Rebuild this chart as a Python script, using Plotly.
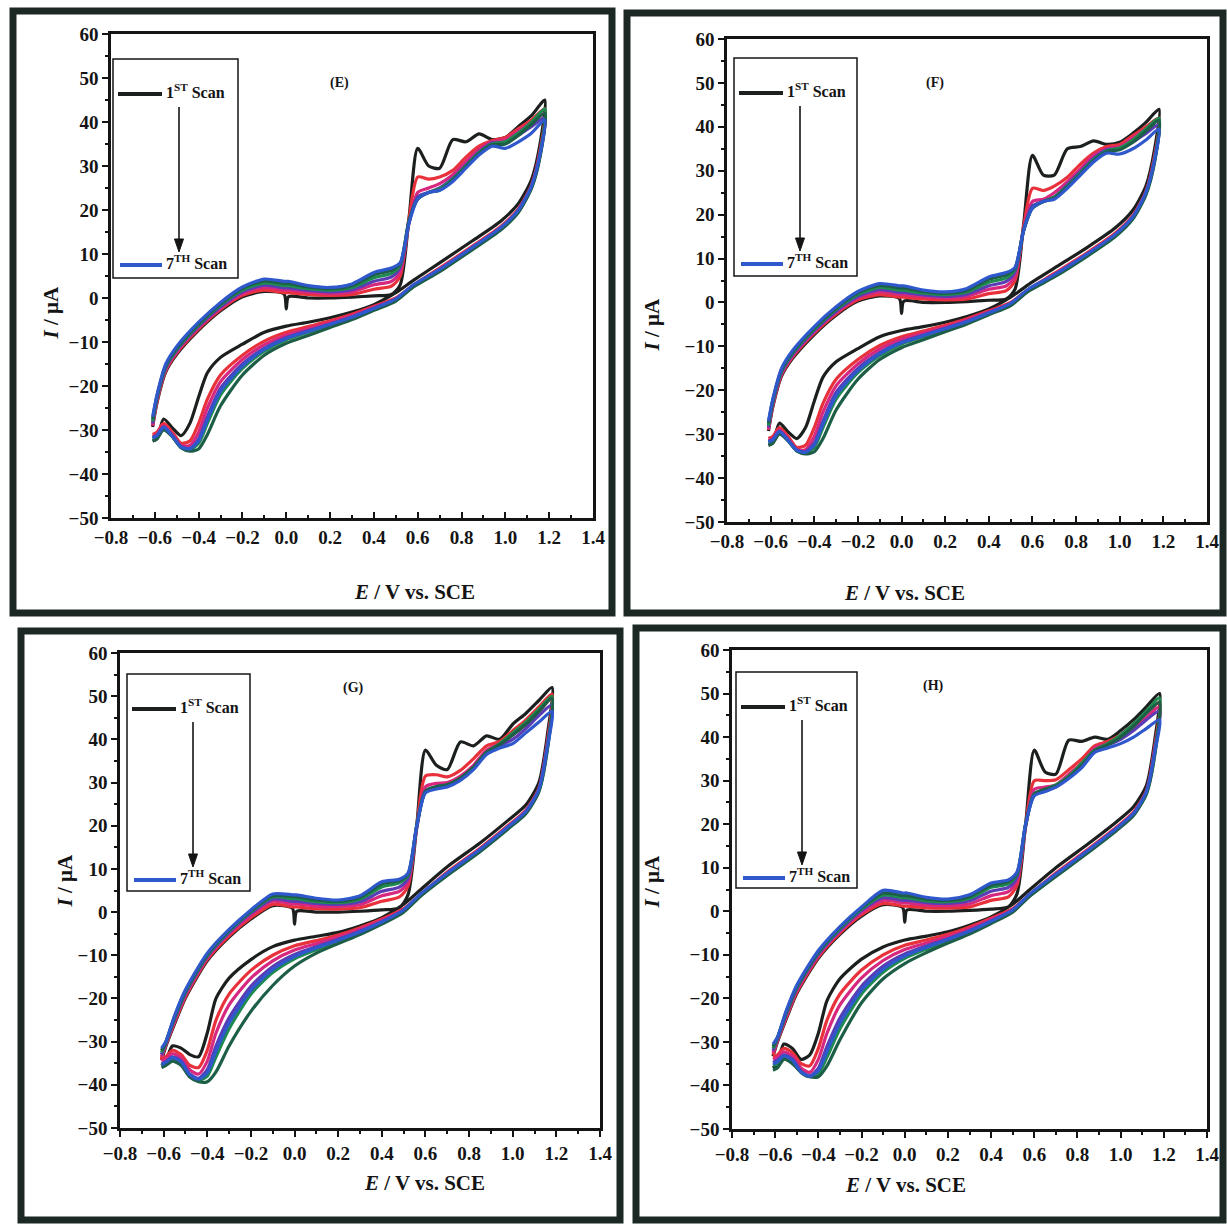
import plotly.graph_objects as go

FIG_W, FIG_H = 1227, 1224

# ---------------- data ----------------
POTENTIAL = [-0.61, -0.59, -0.55, -0.50, -0.40, -0.30, -0.20, -0.10, -0.01, 0.00, 0.01, 0.10, 0.20, 0.30,
             0.40, 0.48, 0.52, 0.56, 0.60, 0.65, 0.70, 0.76, 0.82, 0.88, 0.94, 1.00, 1.06, 1.12, 1.18,
             1.16, 1.12, 1.06, 0.98, 0.85, 0.70, 0.58, 0.50, 0.40, 0.30, 0.20, 0.10, 0.00, -0.10, -0.20,
             -0.30, -0.36, -0.40, -0.44, -0.48, -0.52, -0.56, -0.59, -0.61]

SCAN_NAMES = ["1st Scan", "2nd Scan", "3rd Scan", "4th Scan", "5th Scan", "6th Scan", "7th Scan"]
SCAN_COLORS = ["#1b1f1d", "#e8313a", "#d6287e", "#5a3cb4", "#1f8a4f", "#1d5e46", "#2f58cc"]

# Panel E
E_S1 = [-29.3, -23.8, -16.8, -12.8, -7.3, -2.9, 0.3, 1.5, 0.9, -2.5, 0.3, 0, 0, 0.2, 0.5, 0.8, 3, 18, 34, 30, 29.5, 36, 35.5, 37.3, 36, 36.5, 39, 41.5, 45,
        35.5, 27, 21.5, 17.5, 13, 8, 4, 1.2, -1.5, -3.2, -4.5, -5.5, -6.4, -7.8, -10.5, -13.5, -17, -22.5, -28.5, -31.3, -29.5, -27.5, -32, -32.5]
E_S2 = [-29, -23.5, -16.5, -12.5, -7, -2.6, 0.6, 1.8, 1.2, 1.2, 1.2, 0.8, 0.6, 0.8, 2, 2.7, 5, 18, 27.5, 27, 27.5, 29, 32, 34.5, 35.8, 36.5, 38.5, 40.5, 43,
        34, 25.8, 20.3, 16.3, 11.8, 6.8, 2.9, 0, -1.9, -3.7, -5.2, -6.5, -7.8, -9.8, -13, -17.5, -23, -28.5, -32.5, -33, -30.5, -28.5, -30.5, -31]
E_S3 = [-29, -23, -16.2, -12.2, -6.7, -2.3, 1, 2.4, 1.8, 1.8, 1.8, 1.3, 1, 1.4, 3, 3.8, 6, 17, 24, 25, 26, 28, 31, 33.8, 35.5, 36, 38, 40, 42,
        33.5, 25.6, 20.1, 16.1, 11.6, 6.6, 2.8, -0.2, -2.1, -4, -5.6, -7, -8.4, -10.6, -14, -19, -25, -30.5, -33.5, -33.5, -31, -29, -31, -31.5]
E_S4 = [-28.5, -22.8, -15.9, -11.9, -6.4, -2, 1.4, 2.9, 2.3, 2.3, 2.3, 1.7, 1.4, 1.9, 3.8, 4.8, 7, 17, 23, 24, 25, 27.2, 30.2, 33.2, 35.2, 35.3, 37, 39, 41,
        33, 25.4, 19.9, 15.9, 11.4, 6.4, 2.7, -0.3, -2.3, -4.3, -5.9, -7.4, -9, -11.4, -15, -20.5, -27, -32, -34.2, -33.8, -31.3, -29.3, -31.2, -31.7]
E_S5 = [-28, -22.5, -15.6, -11.6, -6.1, -1.6, 1.8, 3.4, 2.8, 2.8, 2.8, 2.1, 1.8, 2.4, 4.6, 5.6, 7.5, 17.5, 22.5, 24, 24.8, 27, 30, 33, 35, 35.5, 37.5, 40, 43,
        33, 25.2, 19.7, 15.7, 11.2, 6.2, 2.6, -0.5, -2.5, -4.5, -6.2, -7.8, -9.5, -12.1, -16, -22, -28.5, -33, -34.5, -34, -31.5, -29.5, -31.5, -32]
E_S6 = [-27.5, -22.2, -15.3, -11.3, -5.8, -1.3, 2.2, 3.9, 3.3, 3.3, 3.3, 2.5, 2.1, 2.8, 5.3, 6.3, 7.8, 17.5, 22.5, 24, 24.5, 26.8, 29.8, 32.8, 34.8, 35, 37, 39.5, 42,
        32.5, 25, 19.5, 15.5, 11, 6, 2.5, -0.7, -2.8, -4.9, -6.7, -8.5, -10.3, -13, -17.5, -24.5, -31, -34.3, -34.8, -34, -31.5, -30, -32, -32.5]
E_S7 = [-27, -22, -15, -11, -5.5, -1, 2.5, 4.3, 3.8, 3.8, 3.8, 2.8, 2.4, 3.2, 5.8, 6.8, 8, 17, 22.5, 24, 24.5, 26.5, 29.5, 32.5, 34.5, 34, 35.5, 37.5, 40.5,
        33, 25.5, 20, 16, 11.5, 6.5, 3, -0.2, -2.4, -4.4, -6, -7.6, -9.2, -11.7, -15.5, -21.2, -27.7, -32.5, -34.3, -33.9, -31.4, -29.4, -31.3, -31.8]

# Panel F
F_S1 = [-29.3, -23.8, -16.8, -12.8, -7.3, -2.9, 0.3, 1.5, 0.9, -2.5, 0.3, 0, 0, 0.2, 0.5, 0.8, 3, 18, 33.5, 29, 29, 35, 35.5, 36.8, 36, 36.5, 38.5, 41, 44,
        35, 26.5, 21, 17, 12.5, 7.8, 4, 1.2, -1.5, -3.2, -4.5, -5.5, -6.4, -7.8, -10.5, -13.5, -17, -22.5, -28.5, -31, -29.5, -27.5, -32, -32.5]
F_S2 = [-29, -23.5, -16.5, -12.5, -7, -2.6, 0.6, 1.8, 1.2, 1.2, 1.2, 0.8, 0.6, 0.8, 2, 2.7, 5, 17.5, 26, 25.5, 26.5, 28.5, 31.5, 34, 35.5, 36, 38, 40, 42,
        33.5, 25.3, 19.8, 15.8, 11.3, 6.6, 2.9, 0, -1.9, -3.7, -5.2, -6.5, -7.8, -9.8, -13, -17.5, -23, -28.5, -32.5, -33, -30.5, -28.5, -30.5, -31]
F_S3 = [-29, -23, -16.2, -12.2, -6.7, -2.3, 1, 2.4, 1.8, 1.8, 1.8, 1.3, 1, 1.4, 3, 3.8, 6, 17, 23, 23.5, 25, 27.5, 30.5, 33.5, 35, 35.5, 37.5, 39.5, 41.5,
        33, 25.1, 19.6, 15.6, 11.1, 6.4, 2.8, -0.2, -2.1, -4, -5.6, -7, -8.4, -10.6, -14, -19, -25, -30.5, -33.5, -33.5, -31, -29, -31, -31.5]
F_S4 = [-28.5, -22.8, -15.9, -11.9, -6.4, -2, 1.4, 2.9, 2.3, 2.3, 2.3, 1.7, 1.4, 1.9, 3.8, 4.8, 7, 16.5, 22, 23, 24, 26.8, 29.8, 32.8, 34.8, 35, 36.5, 38.5, 40.5,
        32.5, 24.9, 19.4, 15.4, 10.9, 6.2, 2.7, -0.3, -2.3, -4.3, -5.9, -7.4, -9, -11.4, -15, -20.5, -27, -32, -34, -33.6, -31.3, -29.3, -31.2, -31.7]
F_S5 = [-28, -22.5, -15.6, -11.6, -6.1, -1.6, 1.8, 3.4, 2.8, 2.8, 2.8, 2.1, 1.8, 2.4, 4.6, 5.6, 7.5, 16.5, 21.5, 23, 24, 26.5, 29.5, 32.5, 34.5, 35.2, 37, 39.5, 42,
        32.5, 24.7, 19.2, 15.2, 10.7, 6, 2.6, -0.5, -2.5, -4.5, -6.2, -7.8, -9.5, -12.1, -16, -22, -28.5, -33, -34.3, -33.8, -31.5, -29.5, -31.5, -32]
F_S6 = [-27.5, -22.2, -15.3, -11.3, -5.8, -1.3, 2.2, 3.9, 3.3, 3.3, 3.3, 2.5, 2.1, 2.8, 5.3, 6.3, 7.8, 16.5, 21.5, 23, 23.8, 26.3, 29.3, 32.3, 34.3, 34.8, 36.5, 39, 41.5,
        32, 24.5, 19, 15, 10.5, 5.8, 2.5, -0.7, -2.8, -4.9, -6.7, -8.5, -10.3, -13, -17.5, -24.5, -31, -34, -34.5, -33.8, -31.5, -30, -32, -32.5]
F_S7 = [-27, -22, -15, -11, -5.5, -1, 2.5, 4.3, 3.8, 3.8, 3.8, 2.8, 2.4, 3.2, 5.8, 6.8, 8, 16.5, 21.5, 23, 23.5, 26, 29, 32, 34, 33.8, 35, 37, 39.5,
        32.5, 25, 19.5, 15.5, 11, 6.3, 3, -0.2, -2.4, -4.4, -6, -7.6, -9.2, -11.7, -15.5, -21.2, -27.7, -32.5, -34.1, -33.7, -31.4, -29.4, -31.3, -31.8]

# Panel G
G_S1 = [-34.3, -31.1, -25.9, -19.9, -11.3, -5.8, -1.6, 1.5, 0.9, -2.8, 0.2, 0, 0, 0.2, 0.5, 1, 4, 20, 37.5, 34, 33, 39.4, 38.5, 40.8, 40, 43.5, 46, 49, 52,
        41.5, 30, 24.8, 21.3, 16, 10.5, 5.3, 1.8, -1.3, -3.2, -4.7, -5.6, -6.5, -8, -11, -15.3, -20, -28, -33.5, -33, -31.5, -31, -34.5, -35.5]
G_S2 = [-34, -30.8, -25.6, -19.6, -11, -5.5, -1.3, 1.8, 1.2, 1.2, 1.2, 0.8, 0.7, 1, 2.5, 3.5, 6, 20, 31.5, 31.8, 31.3, 32.8, 35.5, 38.5, 39.5, 42, 44.5, 47.5, 50.5,
        40, 28.7, 23.6, 20.1, 14.8, 9.3, 4.2, 0.8, -1.6, -3.6, -5.3, -6.6, -7.8, -10, -13.5, -19, -25, -32, -36, -35.5, -33, -32, -33.5, -34]
G_S3 = [-33.5, -30.6, -25.2, -19.2, -10.6, -5, -0.7, 2.5, 1.9, 1.9, 1.9, 1.4, 1.3, 1.7, 3.8, 4.8, 7, 19.5, 29, 29.8, 30, 31.5, 34, 37.5, 39, 41, 43.5, 46.5, 49.5,
        39.5, 28.5, 23.4, 19.9, 14.6, 9.1, 4.1, 0.6, -1.9, -4, -5.8, -7.3, -8.8, -11.3, -15.3, -21.5, -28, -34.5, -37.5, -36.5, -33.8, -32.8, -34, -34.5]
G_S4 = [-33, -30.4, -24.8, -18.8, -10.3, -4.7, -0.2, 3, 2.5, 2.5, 2.5, 2, 1.8, 2.4, 4.8, 5.8, 7.8, 19.5, 28, 29, 29.5, 31, 33.5, 37, 38.5, 40, 42.5, 45.5, 48,
        39, 28.3, 23.2, 19.7, 14.4, 8.9, 4, 0.4, -2.2, -4.4, -6.3, -8, -9.8, -12.6, -17.2, -24.5, -31, -36.5, -38.5, -37.5, -34.5, -33.5, -34.7, -35.2]
G_S5 = [-32.5, -30.2, -24.5, -18.5, -10, -4.4, 0.1, 3.5, 3.1, 3.1, 3.1, 2.4, 2.2, 3, 5.8, 6.8, 8.5, 20, 28, 29, 29.5, 31, 33.5, 37, 39, 41.5, 44, 47, 50,
        38.5, 28.1, 23, 19.5, 14.2, 8.7, 3.9, 0.2, -2.5, -4.8, -6.8, -8.7, -10.8, -14, -19, -27, -33.5, -38, -39, -38, -35, -34, -35, -35.5]
G_S6 = [-32, -30.1, -24.2, -18.2, -9.8, -4.2, 0.3, 3.8, 3.6, 3.6, 3.6, 2.8, 2.5, 3.4, 6.5, 7.3, 8.8, 20, 28, 29, 29.5, 31, 33.5, 37, 38.8, 41, 43.5, 46.5, 49.5,
        38, 27.9, 22.8, 19.3, 14, 8.5, 3.8, 0, -2.8, -5.2, -7.3, -9.5, -12.5, -17, -23, -31, -37, -39.3, -39.3, -38.2, -35.5, -34.5, -35.5, -36]
G_S7 = [-31.5, -30, -24, -18, -9.5, -4, 0.5, 4.2, 4, 4, 4, 3.2, 2.8, 3.8, 7, 7.6, 9, 20, 27.6, 28.5, 29, 30.5, 33, 36.5, 38, 39, 41.5, 44, 46.5,
        38.5, 28.4, 23.3, 19.8, 14.5, 9, 4.3, 0.5, -2.3, -4.6, -6.5, -8.3, -10.3, -13.3, -18.1, -25.7, -32.2, -37.2, -38.7, -37.7, -34.7, -33.7, -34.8, -35.3]

# Panel H
H_S1 = [-33.3, -30.1, -24.9, -18.9, -10.8, -5.3, -1.1, 1.5, 0.9, -2.5, 0.3, 0, 0, 0.2, 0.5, 1, 4, 20, 37, 32, 31.5, 39.3, 39, 40, 39.5, 41.5, 44, 47, 50,
        40, 29, 24, 20.5, 15.5, 10, 5, 1.6, -1.3, -3.2, -4.7, -5.7, -6.6, -8.2, -11, -15.5, -20.5, -28, -33, -34, -31.5, -30.5, -35, -36]
H_S2 = [-33, -29.8, -24.6, -18.6, -10.5, -5, -0.8, 1.8, 1.2, 1.2, 1.2, 0.8, 0.7, 1, 2.5, 3.3, 6, 20, 30, 30, 30.2, 32.5, 35, 38, 39, 40.5, 43, 45.5, 48,
        38.5, 27.8, 22.8, 19.3, 14.3, 8.8, 3.9, 0.6, -1.6, -3.6, -5.3, -6.6, -7.8, -10, -13.5, -19, -25, -31.5, -35.5, -35, -32.5, -31.5, -33, -33.5]
H_S3 = [-32.5, -29.6, -24.2, -18.2, -10.1, -4.6, -0.3, 2.5, 1.9, 1.9, 1.9, 1.4, 1.3, 1.7, 3.6, 4.5, 7, 19.5, 28, 28.5, 29, 31.5, 34, 37.5, 38.5, 40, 42, 44.5, 47,
        38, 27.6, 22.6, 19.1, 14.1, 8.6, 3.8, 0.4, -1.9, -4, -5.8, -7.3, -8.8, -11.3, -15.3, -21.5, -28, -34, -37, -36, -33.3, -32.3, -33.5, -34]
H_S4 = [-32, -29.4, -23.8, -17.8, -9.8, -4.3, 0.2, 3.1, 2.5, 2.5, 2.5, 2, 1.8, 2.4, 4.6, 5.5, 7.8, 19.5, 27, 27.8, 28.5, 31, 33.5, 37, 38.2, 39.5, 41.5, 44, 46,
        37.5, 27.4, 22.4, 18.9, 13.9, 8.4, 3.7, 0.2, -2.2, -4.4, -6.3, -8, -9.8, -12.6, -17.2, -24.5, -31, -36, -37.8, -36.8, -34, -33, -34.2, -34.7]
H_S5 = [-31.5, -29.2, -23.5, -17.5, -9.5, -4, 0.5, 3.7, 3.1, 3.1, 3.1, 2.4, 2.2, 3, 5.5, 6.3, 8.5, 20, 27, 28, 29, 31, 34, 37, 38.5, 40.5, 43, 46, 49,
        37, 27.2, 22.2, 18.7, 13.7, 8.2, 3.6, 0, -2.5, -4.8, -6.8, -8.7, -10.8, -14, -19, -27, -33.5, -37.3, -38, -37, -34.5, -33.5, -35, -35.5]
H_S6 = [-31, -29.1, -23.2, -17.2, -9.3, -3.7, 0.8, 4.2, 3.6, 3.6, 3.6, 2.8, 2.5, 3.4, 6, 6.8, 8.8, 20, 26.8, 28, 28.8, 30.8, 33.5, 36.8, 38.2, 40, 42.5, 45.5, 48,
        36.5, 27, 22, 18.5, 13.5, 8, 3.5, -0.2, -2.8, -5.2, -7.3, -9.5, -12, -15.5, -21, -29.5, -35.5, -38, -38, -37, -35, -34, -36, -36.5]
H_S7 = [-30.5, -29, -23, -17, -9, -3.5, 1, 4.8, 4.2, 4.2, 4.2, 3.2, 2.8, 3.8, 6.5, 7.2, 9, 20, 26.5, 27.5, 28.5, 30.5, 33, 36.5, 37.5, 38.5, 40, 42, 44,
        37, 27.5, 22.5, 19, 14, 8.5, 4, 0.3, -2.3, -4.6, -6.5, -8.3, -10.3, -13.3, -18.1, -25.7, -32.2, -36.6, -37.9, -36.9, -34.2, -33.2, -34.6, -35.1]

X_TICKS = [-0.8, -0.6, -0.4, -0.2, 0.0, 0.2, 0.4, 0.6, 0.8, 1.0, 1.2, 1.4]
X_TICK_LABELS = ["\u22120.8", "\u22120.6", "\u22120.4", "\u22120.2", "0.0", "0.2", "0.4", "0.6", "0.8", "1.0", "1.2", "1.4"]
Y_TICKS = [-50, -40, -30, -20, -10, 0, 10, 20, 30, 40, 50, 60]
Y_TICK_LABELS = ["\u221250", "\u221240", "\u221230", "\u221220", "\u221210", "0", "10", "20", "30", "40", "50", "60"]

PANEL_KEYS = ["E", "F", "G", "H"]
PANEL_LABELS = ["(E)", "(F)", "(G)", "(H)"]
X_TITLE = "<i>E</i> / V vs. SCE"
Y_TITLE = "<i>I</i> / \u03bcA"
LEGEND_FIRST = "1<sup>ST</sup> Scan"
LEGEND_LAST = "7<sup>TH</sup> Scan"

PANEL_SERIES = {
    "E": [E_S1, E_S2, E_S3, E_S4, E_S5, E_S6, E_S7],
    "F": [F_S1, F_S2, F_S3, F_S4, F_S5, F_S6, F_S7],
    "G": [G_S1, G_S2, G_S3, G_S4, G_S5, G_S6, G_S7],
    "H": [H_S1, H_S2, H_S3, H_S4, H_S5, H_S6, H_S7],
}

# ---------------- layout geometry (pixels) ----------------
PLOT_BOX = {"E": (111, 593, 34, 518), "F": (727, 1207, 39, 522),
            "G": (120, 600, 653, 1128), "H": (732, 1207, 650, 1129)}
FRAME_BOX = {"E": (13, 612, 11, 613), "F": (627, 1223, 13, 613),
             "G": (21, 620, 631, 1220), "H": (636, 1223, 628, 1220)}
LEGEND_BOX = {"E": (113, 59, 238, 278), "F": (734, 58, 857, 276),
              "G": (127, 674, 250, 891), "H": (736, 672, 857, 888)}
LABEL_POS = {"E": (328, 73), "F": (946, 73), "G": (341, 688), "H": (946, 686)}
YTITLE_POS = {"E": (36, 285), "F": (651, 296), "G": (50, 910), "H": (651, 910)}
XTITLE_POS = {"E": (352, 592), "F": (967, 593), "G": (362, 1197), "H": (968, 1199)}
XTICK_DIR = {"E": "inside", "F": "inside", "G": "outside", "H": "outside"}

FONT = "Liberation Serif"
INK = "#141414"
FRAME_COLOR = "#1b2824"


def px(x):
    return x / FIG_W


def py(y):
    return 1 - y / FIG_H


fig = go.Figure()
shapes = []
annotations = []

for i, key in enumerate(PANEL_KEYS):
    sfx = "" if i == 0 else str(i + 1)
    for s, series in enumerate(PANEL_SERIES[key]):
        fig.add_trace(go.Scatter(
            x=POTENTIAL, y=series, mode="lines", name=SCAN_NAMES[s],
            line=dict(color=SCAN_COLORS[s], width=3.2, shape="spline", smoothing=0.7),
            xaxis="x" + sfx, yaxis="y" + sfx, showlegend=False, hoverinfo="skip"))

    x0, x1, y0, y1 = PLOT_BOX[key]
    axis_common = dict(showline=True, mirror=True, linewidth=2.5, linecolor=INK,
                       showgrid=False, zeroline=False, tickcolor=INK, tickwidth=2, automargin=False,
                       tickfont=dict(family=FONT, size=19, color=INK, weight="bold"))
    fig.layout["xaxis" + sfx] = dict(
        domain=[px(x0), px(x1)], range=[-0.8, 1.4], anchor="y" + sfx,
        tickvals=X_TICKS, ticktext=X_TICK_LABELS, ticks=XTICK_DIR[key], ticklen=6,
        minor=dict(ticks=XTICK_DIR[key], ticklen=3, tick0=-0.8, dtick=0.1, tickcolor=INK, tickwidth=1.5),
        **axis_common)
    fig.layout["yaxis" + sfx] = dict(
        domain=[py(y1), py(y0)], range=[-50, 60], anchor="x" + sfx,
        tickvals=Y_TICKS, ticktext=Y_TICK_LABELS, ticks="outside", ticklen=6,
        minor=dict(ticks="outside", ticklen=3, tick0=-50, dtick=5, tickcolor=INK, tickwidth=1.5),
        **axis_common)

    # panel frame
    fx0, fx1, fy0, fy1 = FRAME_BOX[key]
    shapes.append(dict(type="rect", xref="paper", yref="paper",
                       x0=px(fx0), x1=px(fx1), y0=py(fy1), y1=py(fy0),
                       line=dict(color=FRAME_COLOR, width=7), fillcolor="rgba(0,0,0,0)", layer="above"))

    # legend box with sample lines and a downward arrow
    lx0, ly0, lx1, ly1 = LEGEND_BOX[key]
    shapes.append(dict(type="rect", xref="paper", yref="paper",
                       x0=px(lx0), x1=px(lx1), y0=py(ly1), y1=py(ly0),
                       line=dict(color=INK, width=1.5), fillcolor="white", layer="above"))
    shapes.append(dict(type="line", xref="paper", yref="paper",
                       x0=px(lx0 + 5), x1=px(lx0 + 49), y0=py(ly0 + 35), y1=py(ly0 + 35),
                       line=dict(color=SCAN_COLORS[0], width=4), layer="above"))
    shapes.append(dict(type="line", xref="paper", yref="paper",
                       x0=px(lx0 + 7), x1=px(lx0 + 49), y0=py(ly0 + 206), y1=py(ly0 + 206),
                       line=dict(color=SCAN_COLORS[6], width=4), layer="above"))
    ax_x = lx0 + 66
    shapes.append(dict(type="line", xref="paper", yref="paper",
                       x0=px(ax_x), x1=px(ax_x), y0=py(ly0 + 48), y1=py(ly0 + 182),
                       line=dict(color=INK, width=1.6), layer="above"))
    shapes.append(dict(type="path", xref="paper", yref="paper",
                       path="M {:.6f},{:.6f} L {:.6f},{:.6f} L {:.6f},{:.6f} Z".format(
                           px(ax_x - 4.5), py(ly0 + 180), px(ax_x + 4.5), py(ly0 + 180), px(ax_x), py(ly0 + 193)),
                       line=dict(color=INK, width=1), fillcolor=INK, layer="above"))
    annotations.append(dict(xref="paper", yref="paper", x=px(lx0 + 51), y=py(ly0 + 32),
                            text=LEGEND_FIRST, showarrow=False, xanchor="left", yanchor="middle",
                            font=dict(family=FONT, size=16, color=INK, weight="bold")))
    annotations.append(dict(xref="paper", yref="paper", x=px(lx0 + 51), y=py(ly0 + 203),
                            text=LEGEND_LAST, showarrow=False, xanchor="left", yanchor="middle",
                            font=dict(family=FONT, size=16, color=INK, weight="bold")))

    # panel label
    lbx, lby = LABEL_POS[key]
    annotations.append(dict(xref="paper", yref="paper", x=px(lbx), y=py(lby), text=PANEL_LABELS[i],
                            showarrow=False, font=dict(family=FONT, size=14, color=INK, weight="bold")))
    # axis titles
    ytx, yty = YTITLE_POS[key]
    annotations.append(dict(xref="paper", yref="paper", x=px(ytx), y=py(yty), text=Y_TITLE,
                            showarrow=False, textangle=-90,
                            font=dict(family=FONT, size=21, color=INK, weight="bold")))
    xtx, xty = XTITLE_POS[key]
    annotations.append(dict(xref="paper", yref="paper", x=px(xtx), y=py(xty), text=X_TITLE,
                            showarrow=False,
                            font=dict(family=FONT, size=21, color=INK, weight="bold")))

fig.update_layout(
    width=FIG_W, height=FIG_H, margin=dict(l=0, r=0, t=0, b=0, autoexpand=False),
    paper_bgcolor="white", plot_bgcolor="white",
    shapes=shapes, annotations=annotations, showlegend=False,
)

fig.write_html("out.html")
